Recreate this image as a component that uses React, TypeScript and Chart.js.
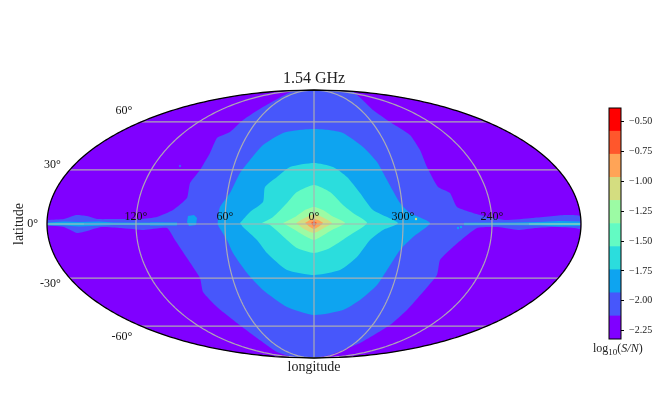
import React, { useEffect, useRef } from "react";
import { Chart, registerables } from "chart.js";

Chart.register(...registerables);

const SERIF = "'Liberation Serif', serif";

// Filled contour levels of log10(S/N) and their colours
const levelEdges = [-2.32, -2.127, -1.933, -1.74, -1.546, -1.353, -1.159, -0.966, -0.772, -0.579, -0.385];
const bandColors = ["#8000ff", "#4757fb", "#0ea4f0", "#2bdddd", "#63fbc3", "#9cfba4", "#d4dd80", "#ffa457", "#ff572c", "#ff0000"];
const colorbarTicks = [-2.25, -2.0, -1.75, -1.5, -1.25, -1.0, -0.75, -0.5];

// Contour outlines, in Mollweide map units (x -267..267, y -134..134)
const band1X = [-266, -250, -238, -227, -217, -197, -173, -157, -141, -127, -124, -114, -104, -97, -84, -71, -51, -21, 0, 39, 59, 76, 96, 106, 113, 124, 136, 143, 166, 191, 218, 251, 266, 266, 261, 241, 221, 204, 184, 163, 139, 126, 123, 109, 93, 76, 46, 16, 0, -21, -37, -57, -77, -97, -111, -114, -127, -139, -147, -170, -193, -213, -227, -237, -250, -266];
const band1Y = [4, 5, 9, 8, 5, 5, 5, 7, 14, 26, 41, 54, 71, 86, 92, 104, 117, 133, 134, 132, 114, 102, 89, 74, 57, 37, 31, 17, 9, 4, 6, 9, 8, -5, -4, -3, -4, -6, -3, -4, -23, -36, -51, -68, -86, -101, -119, -131, -134, -133, -128, -114, -99, -83, -68, -54, -34, -16, -4, -6, -4, -3, -7, -9, -3, -1];
const band2X = [-96, -94, -84, -74, -64, -51, -31, -15, 0, 15, 29, 49, 63, 73, 86, 96, 116, 99, 86, 73, 63, 46, 29, 0, -27, -51, -67, -81, -87, -96];
const band2Y = [6, 17, 31, 51, 64, 79, 91, 94, 95, 94, 91, 77, 62, 44, 21, 11, 1, -13, -26, -46, -61, -76, -86, -91, -83, -66, -49, -29, -16, -1];
const band3X = [-74, -64, -51, -49, -37, -24, 0, 19, 33, 46, 59, 84, 69, 56, 43, 26, 0, -27, -47, -57, -71];
const band3Y = [1, 12, 22, 37, 47, 57, 61, 57, 47, 31, 14, 1, -6, -16, -33, -46, -51, -46, -29, -16, -3];
const band4X = [-52, -41, -27, -17, 0, 16, 29, 39, 53, 33, 16, 0, -17, -27, -44];
const band4Y = [1, 7, 21, 32, 39, 32, 19, 11, 1, -13, -24, -29, -24, -16, -1];
const band5X = [-31, -19, -9, 0, 9, 18, 31, 18, 8, 0, -9, -19];
const band5Y = [1, 7, 14, 17, 14, 8, 1, -6, -12, -16, -12, -6];
const band6X = [-18, -11, 0, 10, 18, 10, 0, -10];
const band6Y = [1, 5, 10, 6, 1, -4, -9, -5];
const band7X = [-9, -4, 0, 4, 9, 4, 0, -4];
const band7Y = [1, 4, 5, 4, 1, -3, -5, -3];
const band8X = [-3, 0, 3, 0];
const band8Y = [1, 3, 1, -3];

// Galactic-plane patches
const stripLeftX = [-266, -250, -235, -215, -200, -150, -150, -200, -215, -235, -250, -266];
const stripLeftY = [1.5, 2.5, 2, 2.5, 1.5, 1.2, -1.2, -1, -1.8, -2.5, -1.5, -1.5];
const blobX = [-127, -126, -120, -117, -118, -125];
const blobY = [2, 8, 9, 6, -1, -2];
const stripMidX = [-164, -137, -137, -164];
const stripMidY = [1.5, 1.5, -1.5, -1.5];
const stripRightX = [150, 200, 225, 245, 266, 266, 245, 225, 200, 150];
const stripRightY = [1.2, 1.5, 2, 3, 2.5, -2, -2.5, -1.5, -1.2, -1.2];
const ridgeLeftX = [-266, -230, -230, -266];
const ridgeLeftY = [0.6, 0.6, -0.6, -0.6];
const ridgeRightX = [215, 266, 266, 215];
const ridgeRightY = [0.7, 1, -1, -0.7];
const spotKhakiX = [102];
const spotKhakiY = [5];
const spotBlueX = [144, 147];
const spotBlueY = [-4, -3];
const spotBand1X = [-134];
const spotBand1Y = [58];

const longitudeLines = [-120, -60, 0, 60, 120];
const longitudeLabels = ["120°", "60°", "0°", "300°", "240°"];
const latitudeLines = [-60, -30, 0, 30, 60];
const latitudeLabels = ["-60°", "-30°", "0°", "30°", "60°"];

const MAP_W = 267;
const MAP_H = 134;

function auxAngle(latDeg: number) {
  const phi = (latDeg * Math.PI) / 180;
  if (Math.abs(latDeg) === 90) return phi;
  let t = phi;
  for (let i = 0; i < 40; i++) {
    t -= (2 * t + Math.sin(2 * t) - Math.PI * Math.sin(phi)) / (2 + 2 * Math.cos(2 * t));
  }
  return t;
}
function project(lon: number, lat: number) {
  const t = auxAngle(lat);
  return { x: (MAP_W * lon * Math.cos(t)) / 180, y: MAP_H * Math.sin(t) };
}
function zip(xs: number[], ys: number[]) {
  const pts = xs.map((x, i) => ({ x, y: ys[i] }));
  pts.push(pts[0]);
  return pts;
}
function range(a: number, b: number, n: number) {
  const out: number[] = [];
  for (let i = 0; i <= n; i++) out.push(a + ((b - a) * i) / n);
  return out;
}

const GRID = "rgba(176,176,176,0.95)";

const mapLabels = {
  id: "mapLabels",
  afterDatasetsDraw(chart: any) {
    const { ctx, scales } = chart;
    ctx.save();
    ctx.fillStyle = "#111";
    ctx.font = `12px ${SERIF}`;
    ctx.textBaseline = "middle";
    ctx.textAlign = "center";
    longitudeLines.forEach((lon, i) => {
      const p = project(lon, 0);
      ctx.fillText(longitudeLabels[i], scales.x.getPixelForValue(p.x), scales.y.getPixelForValue(p.y) - 7.5);
    });
    ctx.textAlign = "right";
    latitudeLines.forEach((lat, i) => {
      const p = project(-180, lat);
      ctx.fillText(latitudeLabels[i], scales.x.getPixelForValue(p.x) - 9, scales.y.getPixelForValue(p.y) - lat / 5.6);
    });
    ctx.restore();
  },
};

const colorbarDecor = {
  id: "colorbarDecor",
  afterDraw(chart: any) {
    const { ctx, chartArea: a } = chart;
    ctx.save();
    ctx.strokeStyle = "#000";
    ctx.lineWidth = 1;
    ctx.strokeRect(a.left, a.top, a.right - a.left, a.bottom - a.top);
    ctx.fillStyle = "#222";
    ctx.textBaseline = "alphabetic";
    ctx.textAlign = "left";
    const y = a.bottom + 13;
    let x = a.left - 16;
    ctx.font = `12px ${SERIF}`;
    ctx.fillText("log", x, y);
    x += ctx.measureText("log").width;
    ctx.font = `9px ${SERIF}`;
    ctx.fillText("10", x, y + 3);
    x += ctx.measureText("10").width;
    ctx.font = `12px ${SERIF}`;
    ctx.fillText("(", x, y);
    x += ctx.measureText("(").width;
    ctx.font = `italic 12px ${SERIF}`;
    ctx.fillText("S/N", x, y);
    x += ctx.measureText("S/N").width;
    ctx.font = `12px ${SERIF}`;
    ctx.fillText(")", x, y);
    ctx.restore();
  },
};

export default function App() {
  const mapRef = useRef<HTMLCanvasElement>(null);
  const barRef = useRef<HTMLCanvasElement>(null);

  useEffect(() => {
    const poly = (xs: number[], ys: number[], level: number, order: number, tension = 0) => ({
      data: zip(xs, ys),
      showLine: true,
      fill: "shape",
      backgroundColor: bandColors[level],
      borderColor: bandColors[level],
      borderWidth: 0,
      pointRadius: 0,
      tension,
      order,
      clip: false,
    });
    const line = (data: { x: number; y: number }[], color: string, width: number, order: number) => ({
      data,
      showLine: true,
      fill: false,
      borderColor: color,
      borderWidth: width,
      pointRadius: 0,
      tension: 0.01,
      order,
      clip: false,
    });
    const spots = (xs: number[], ys: number[], level: number, order: number) => ({
      data: xs.map((x, i) => ({ x, y: ys[i] })),
      showLine: false,
      pointRadius: 1.2,
      pointBorderWidth: 0,
      pointBackgroundColor: bandColors[level],
      order,
      clip: false,
    });

    const rim = [
      ...range(-90, 90, 120).map((l) => project(-180, l)),
      ...range(90, -90, 120).map((l) => project(180, l)),
    ];

    const datasets: any[] = [
      { ...line(rim, "#000", 1.3, 1) },
      ...longitudeLines.map((lon) => line(range(-90, 90, 90).map((l) => project(lon, l)), GRID, 1.2, 2)),
      ...latitudeLines.map((lat) => line([project(-180, lat), project(180, lat)], GRID, 1.2, 2)),
      spots(spotKhakiX, spotKhakiY, 6, 3),
      spots(spotBlueX, spotBlueY, 2, 3),
      spots(spotBand1X, spotBand1Y, 1, 3),
      poly(band8X, band8Y, 8, 10),
      poly(band7X, band7Y, 7, 11, 0.2),
      poly(band6X, band6Y, 6, 12, 0.2),
      poly(band5X, band5Y, 5, 13, 0.2),
      poly(band4X, band4Y, 4, 14, 0.2),
      poly(band3X, band3Y, 3, 15, 0.2),
      poly(ridgeLeftX, ridgeLeftY, 3, 15),
      poly(ridgeRightX, ridgeRightY, 3, 15),
      poly(band2X, band2Y, 2, 16, 0.2),
      poly(stripLeftX, stripLeftY, 2, 16),
      poly(stripMidX, stripMidY, 2, 16),
      poly(stripRightX, stripRightY, 2, 16),
      poly(blobX, blobY, 2, 16),
      poly(band1X, band1Y, 1, 17, 0.15),
      { ...line(rim, bandColors[0], 0, 18), fill: "shape", backgroundColor: bandColors[0] },
    ];

    const map = new Chart(mapRef.current!, {
      type: "scatter",
      data: { datasets },
      plugins: [mapLabels],
      options: {
        responsive: false,
        animation: false,
        layout: { padding: { right: 83 } },
        plugins: {
          legend: { display: false },
          tooltip: { enabled: false },
          title: {
            display: true,
            text: "1.54 GHz",
            fullSize: false,
            color: "#222",
            font: { family: SERIF, size: 16, weight: "normal", lineHeight: 1.2 },
            padding: { top: 68.8, bottom: 2 },
          },
        },
        scales: {
          x: {
            type: "linear",
            min: -MAP_W,
            max: MAP_W,
            ticks: { display: false },
            grid: { display: false },
            border: { display: false },
            title: { display: true, text: "longitude", color: "#222", font: { family: SERIF, size: 14 }, padding: { top: 0, bottom: 43 } },
            afterFit(s: any) { s.height = 61; },
          },
          y: {
            type: "linear",
            min: -MAP_H,
            max: MAP_H,
            ticks: { display: false },
            grid: { display: false },
            border: { display: false },
            title: { display: true, text: "latitude", color: "#222", font: { family: SERIF, size: 14 }, padding: 11 },
            afterFit(s: any) { s.width = 47; },
          },
        },
      } as any,
    });

    const bar = new Chart(barRef.current!, {
      type: "bar",
      data: {
        labels: [""],
        datasets: bandColors.map((c, i) => ({
          data: [[levelEdges[i], levelEdges[i + 1]]],
          backgroundColor: c,
          borderWidth: 0,
          barPercentage: 1,
          categoryPercentage: 1,
          grouped: false,
        })) as any,
      },
      plugins: [colorbarDecor],
      options: {
        responsive: false,
        animation: false,
        layout: { padding: { left: 39, top: 13, right: 0, bottom: 0 } },
        plugins: { legend: { display: false }, tooltip: { enabled: false } },
        scales: {
          x: {
            ticks: { display: false },
            grid: { display: false },
            border: { display: false },
            afterFit(s: any) { s.height = 26; },
          },
          y: {
            position: "right",
            min: levelEdges[0],
            max: levelEdges[levelEdges.length - 1],
            afterBuildTicks(s: any) { s.ticks = colorbarTicks.map((value) => ({ value })); },
            ticks: {
              color: "#222",
              padding: 5,
              font: { family: SERIF, size: 10 },
              callback: (v: any) => "−" + Math.abs(Number(v)).toFixed(2),
            },
            grid: { drawOnChartArea: false, drawTicks: true, tickLength: 3, color: "#000" },
            border: { display: false },
            afterFit(s: any) { s.width = 43; },
          },
        },
      } as any,
    });

    return () => {
      map.destroy();
      bar.destroy();
    };
  }, []);

  return (
    <div style={{ position: "absolute", left: 0, top: 0, width: 664, height: 419, background: "#fff", overflow: "hidden" }}>
      <canvas ref={mapRef} width={664} height={419} style={{ position: "absolute", left: 0, top: 0 }} />
      <canvas ref={barRef} width={94} height={270} style={{ position: "absolute", left: 570, top: 95 }} />
    </div>
  );
}
